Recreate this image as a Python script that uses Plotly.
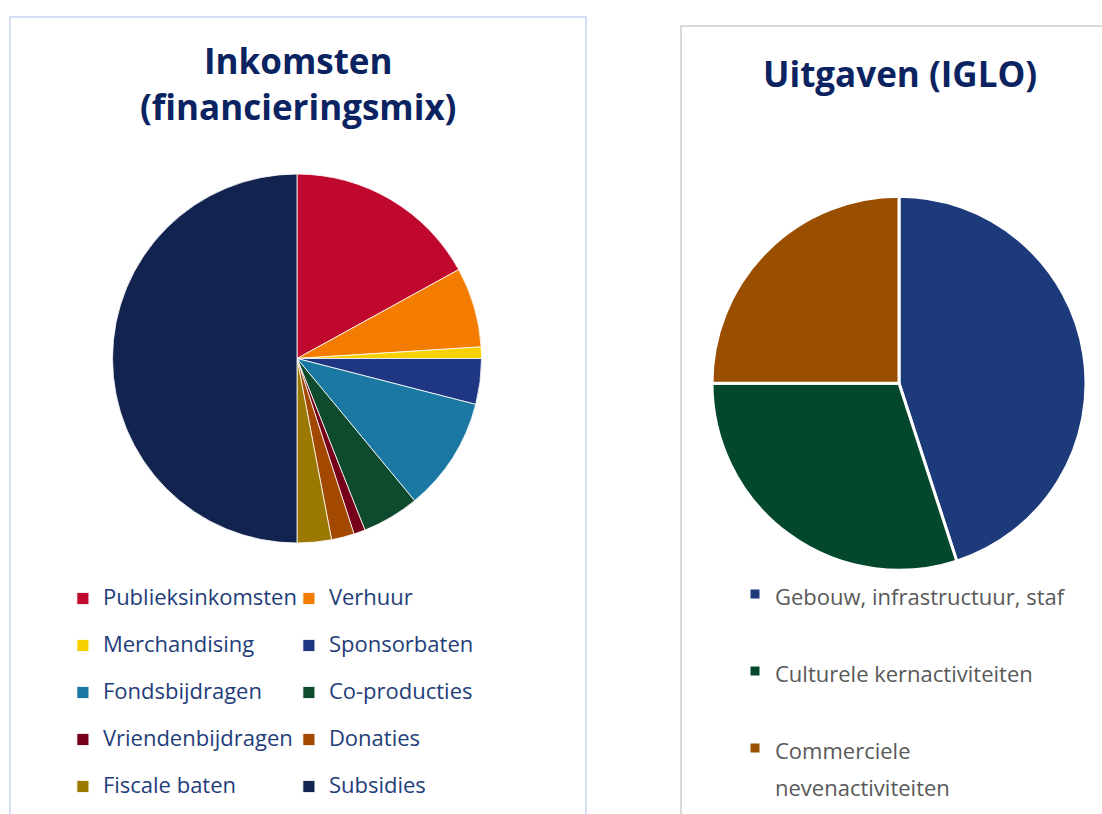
import plotly.graph_objects as go

# ---------------- data ----------------
income_labels = ["Publieksinkomsten", "Verhuur", "Merchandising", "Sponsorbaten",
                 "Fondsbijdragen", "Co-producties", "Vriendenbijdragen", "Donaties",
                 "Fiscale baten", "Subsidies"]
income_values = [17, 7, 1, 4, 10, 5, 1, 2, 3, 50]
income_colors = ["#c0072d", "#f47c00", "#f7d000", "#1f3683", "#1a78a2",
                 "#0d4a2e", "#760019", "#a34800", "#9b7800", "#122350"]

expense_labels = ["Gebouw, infrastructuur, staf", "Culturele kernactiviteiten",
                  "Commerciele<br>nevenactiviteiten"]
expense_values = [45, 30, 25]
expense_colors = ["#1d3a7a", "#03482c", "#9a4f00"]

title_left = "Inkomsten<br>(financieringsmix)"
title_right = "Uitgaven (IGLO)"

# ---------------- layout helpers ----------------
W, H = 1102, 814
ML = 63
GW = W - ML
def px(x):
    return (x - ML) / GW
def py(y):
    return 1 - y / H

FONT = "Open Sans"
LEG_TXT = 22

def leg_label(s):
    return f"<span style='font-size:{LEG_TXT}px'>{s}</span><br> "

fig = go.Figure()

# left pie
lc, lcy, lr = 297, 358.5, 184.5
fig.add_trace(go.Pie(
    labels=[leg_label(s) for s in income_labels],
    values=income_values,
    customdata=income_labels,
    hovertemplate="%{customdata}: %{percent}<extra></extra>",
    marker=dict(colors=income_colors, line=dict(color="white", width=0.8)),
    sort=False, direction="clockwise", rotation=0,
    textinfo="none",
    domain=dict(x=[px(lc - lr), px(lc + lr)], y=[py(lcy + lr), py(lcy - lr)]),
    legend="legend",
))

# right pie
rc, rcy, rr = 899, 383.3, 187
fig.add_trace(go.Pie(
    labels=[leg_label(s) for s in expense_labels],
    values=expense_values,
    customdata=[s.replace("<br>", " ") for s in expense_labels],
    hovertemplate="%{customdata}: %{percent}<extra></extra>",
    marker=dict(colors=expense_colors, line=dict(color="white", width=3)),
    sort=False, direction="clockwise", rotation=0,
    textinfo="none",
    domain=dict(x=[px(rc - rr), px(rc + rr)], y=[py(rcy + rr), py(rcy - rr)]),
    legend="legend2",
))

L_left = 22.0
L_right = 37.0

fig.update_layout(
    width=W, height=H,
    margin=dict(l=ML, r=0, t=0, b=0, autoexpand=False),
    paper_bgcolor="white", plot_bgcolor="white",
    font=dict(family=FONT),
    showlegend=True,
    legend=dict(
        orientation="h", x=-0.0001, xanchor="left",
        y=py(581), yanchor="top",
        entrywidth=181, entrywidthmode="pixels",
        valign="top",
        font=dict(family=FONT, size=L_left / 1.3, color="#1f3d7a"),
        bgcolor="rgba(0,0,0,0)",
    ),
    legend2=dict(
        orientation="v", x=px(735), xanchor="left",
        y=py(569), yanchor="top",
        valign="top",
        font=dict(family=FONT, size=L_right / 1.3, color="#595959"),
        bgcolor="rgba(0,0,0,0)",
    ),
    shapes=[
        dict(type="rect", xref="paper", yref="paper", layer="below",
             x0=px(10), x1=px(586), y0=py(830), y1=py(17),
             line=dict(color="#d4def4", width=2), fillcolor="white"),
        dict(type="rect", xref="paper", yref="paper", layer="below",
             x0=px(681), x1=px(1120), y0=py(830), y1=py(26),
             line=dict(color="#d9d9d9", width=2), fillcolor="white"),
    ],
    annotations=[
        dict(text=f"<b>{title_left}</b>", xref="paper", yref="paper",
             x=px(298), y=py(35), xanchor="center", yanchor="top",
             showarrow=False, align="center",
             font=dict(family=FONT, size=35, color="#0b2361")),
        dict(text=f"<b>{title_right}</b>", xref="paper", yref="paper",
             x=px(899.5), y=py(48), xanchor="center", yanchor="top",
             showarrow=False, align="center",
             font=dict(family=FONT, size=35, color="#0b2361")),
    ],
)

fig.write_html("out.html")
